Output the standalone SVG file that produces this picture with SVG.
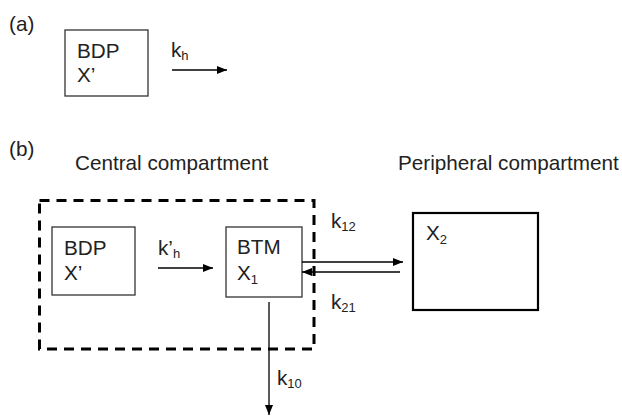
<svg xmlns="http://www.w3.org/2000/svg" width="622" height="418" viewBox="0 0 622 418">
<style>
text{font-family:"Liberation Sans",Arial,sans-serif;font-size:20.7px;fill:#222}
.sub{font-size:13px}
.box{fill:#fff;stroke:#333;stroke-width:1.3}
.thick{fill:#fff;stroke:#000;stroke-width:2.2}
.dash{fill:none;stroke:#000;stroke-width:3;stroke-dasharray:10 7}
.arrow{stroke:#000;stroke-width:1.3;fill:none;marker-end:url(#ah)}
</style>
<defs>
<marker id="ah" markerUnits="userSpaceOnUse" markerWidth="10" markerHeight="8" refX="10" refY="4" orient="auto"><path d="M0,0 L10,4 L0,8 Z" fill="#000"/></marker>
</defs>
<rect width="622" height="418" fill="#fff"/>
<g id="panel-labels">
<text x="9" y="31">(a)</text>
<text x="9" y="156">(b)</text>
<text x="75" y="170">Central compartment</text>
<text x="398" y="170">Peripheral compartment</text>
</g>
<g id="central-compartment">
<rect class="dash" x="39.5" y="200.5" width="274.5" height="148.5"/>
</g>
<g id="a-bdp">
<rect class="box" x="65" y="30" width="83" height="66"/>
<text x="77" y="58">BDP</text>
<text x="77" y="82">X’</text>
</g>
<g id="b-bdp">
<rect class="box" x="52" y="227" width="83" height="68"/>
<text x="64" y="255">BDP</text>
<text x="64" y="280">X’</text>
</g>
<g id="btm">
<rect class="box" x="226" y="227" width="76" height="70"/>
<text x="237" y="254">BTM</text>
<text x="237" y="280">X<tspan class="sub" dy="4">1</tspan></text>
</g>
<g id="peripheral">
<rect class="thick" x="413" y="213" width="125" height="97"/>
<text x="426" y="240">X<tspan class="sub" dy="4">2</tspan></text>
</g>
<g id="connectors">
<line class="arrow" x1="172" y1="70" x2="227" y2="70"/>
<text x="171" y="57">k<tspan class="sub" dy="3">h</tspan></text>
<line class="arrow" x1="158" y1="268" x2="213" y2="268"/>
<text x="158" y="255">k’<tspan class="sub" dy="3">h</tspan></text>
<line class="arrow" x1="302" y1="262" x2="403" y2="262"/>
<text x="331" y="228">k<tspan class="sub" dy="3">12</tspan></text>
<line class="arrow" x1="400" y1="272" x2="302" y2="272"/>
<text x="331" y="309">k<tspan class="sub" dy="3">21</tspan></text>
<line class="arrow" x1="269" y1="302" x2="269" y2="415"/>
<text x="277" y="385">k<tspan class="sub" dy="3">10</tspan></text>
</g>
</svg>
